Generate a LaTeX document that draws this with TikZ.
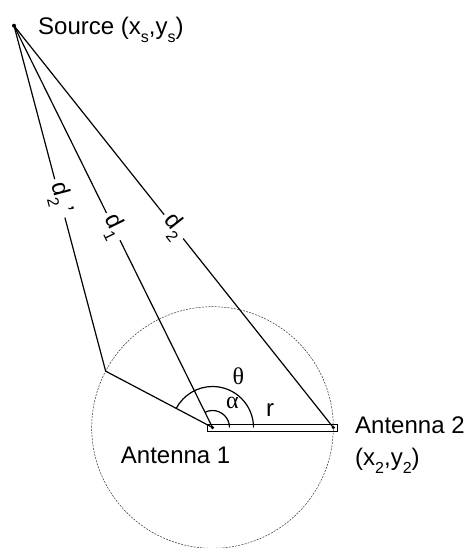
\documentclass[tikz,border=0pt]{standalone}
\usepackage{fontspec}
\setmainfont{Liberation Sans}
\newfontfamily\grk{Liberation Serif}
\usetikzlibrary{calc}
\newcommand\lsub[1]{\raisebox{-8pt}{\fontsize{16}{16}\selectfont #1}}
\begin{document}
\begin{tikzpicture}[x=1pt,y=1pt,
  every node/.style={font=\fontsize{24}{28}\selectfont, inner sep=0pt},
  dot/.style={circle, fill=black, minimum size=4pt, inner sep=0pt},
  ray/.style={line width=1.2pt},
  dlabel/.style={fill=white, sloped, inner sep=4pt, pos=0.5},
  circ/.style={line width=0.5pt, dash pattern=on 2pt off 1.2pt, black!80},
  angarc/.style={line width=1.2pt}]
\useasboundingbox (0,0) rectangle (469,-548);
\node[dot] (src) at (14,-25.7) {};
\node[dot, minimum size=3.5pt] (ant1) at (212.5,-427.5) {};
\node[dot, minimum size=3.5pt] (ant2) at (333.3,-427.5) {};
\coordinate (P) at ($(ant1.center)+(152.2:120.8)$);
% circle
\draw[circ] (ant1.center) circle (120.8);
% bar
\draw[line width=0.9pt] (207.3,-424) rectangle (337.3,-431);
% rays
\draw[ray] (src.center) -- node[dlabel] {d\lsub{2}\,'} (P);
\draw[ray] (src.center) -- node[dlabel] {d\lsub{1}} (ant1.center);
\draw[ray] (src.center) -- node[dlabel] {d\lsub{2}} (ant2.center);
\draw[ray] (P) -- (ant1.center);
% angle arcs
\draw[angarc] ($(ant1.center)+(41,0)$) arc (0:152.2:41);
\draw[angarc] ($(ant1.center)+(17,0)$) arc (0:116.3:17);
% labels
\node (theta) at (238.3,-376.7) {\grk θ};
\node (alpha) at (232.3,-403.3) {\grk α};
\node (r) at (270,-410) {r};
\node[anchor=base west] (srclbl) at (38,-35) {Source (x\lsub{s},y\lsub{s})};
\node[anchor=base west] (a1lbl) at (120.7,-463) {Antenna 1};
\node[anchor=base west] (a2lbl) at (355,-433.3) {Antenna 2};
\node[anchor=base west] (a2crd) at (355,-465) {(x\lsub{2},y\lsub{2})};
\end{tikzpicture}
\end{document}
